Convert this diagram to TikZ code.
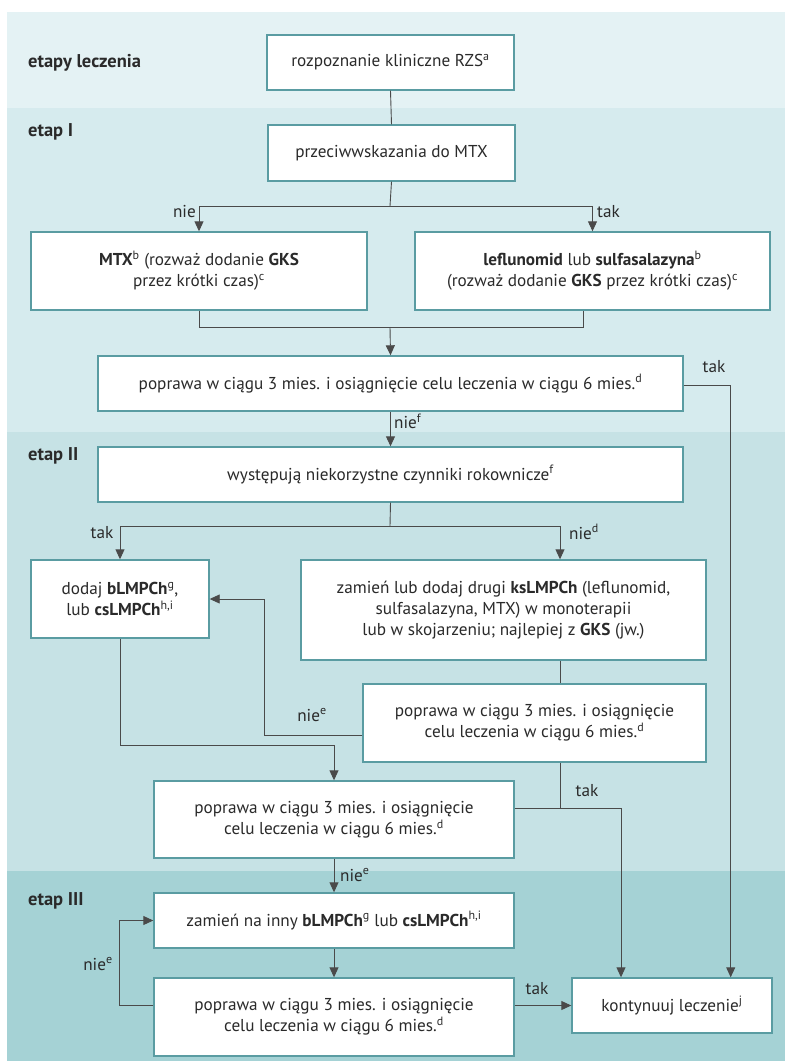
\documentclass[tikz,border=0pt]{standalone}
\usepackage{fontspec}
\setmainfont{PT Sans}
\usetikzlibrary{arrows.meta,calc}
\definecolor{bandA}{HTML}{E4F2F4}
\definecolor{bandB}{HTML}{D6EBEE}
\definecolor{bandC}{HTML}{C6E2E5}
\definecolor{bandD}{HTML}{A5D2D5}
\definecolor{boxc}{HTML}{5A9CA2}
\definecolor{linec}{HTML}{4A4A4A}
\definecolor{txt}{HTML}{2A2A2A}
\tikzset{
  box/.style={draw=boxc, line width=1.4pt, fill=white, align=center, inner sep=0pt,
    font=\fontsize{17.2}{21}\selectfont, text=txt},
  conn/.style={draw=linec, line width=0.9pt},
  arr/.style={conn, -{Triangle[length=10pt,width=9pt]}},
  lab/.style={font=\fontsize{17.2}{20}\selectfont, text=txt, inner sep=1pt},
  stage/.style={font=\bfseries\fontsize{18.5}{22}\selectfont, text=txt, anchor=west, inner sep=0pt}
}
\begin{document}
\begin{tikzpicture}[x=1pt,y=-1pt]
\useasboundingbox (0,0) rectangle (785,1061);
% bands
\fill[bandA] (7,12) rectangle (785,108);
\fill[bandB] (7,108) rectangle (785,432);
\fill[bandC] (7,432) rectangle (785,871);
\fill[bandD] (7,871) rectangle (785,1061);
% stage labels
\node[stage] (s0) at (28,63) {etapy leczenia};
\node[stage] (s1) at (28,132) {etap I};
\node[stage] (s2) at (28,456) {etap II};
\node[stage] (s3) at (28,901) {etap III};
% boxes
\node[box, minimum width=247pt, minimum height=55pt] (b1) at (390.5,62.5) {rozpoznanie kliniczne RZS\textsuperscript{a}};
\node[box, minimum width=247pt, minimum height=56pt] (prz) at (391.5,153) {przeciwwskazania do MTX};
\node[box, minimum width=336pt, minimum height=78pt] (mtx) at (199,271) {\textbf{MTX}\textsuperscript{b} (rozważ dodanie \textbf{GKS}\\przez krótki czas)\textsuperscript{c}};
\node[box, minimum width=355pt, minimum height=78pt] (lef) at (592.5,271) {\textbf{leflunomid} lub \textbf{sulfasalazyna}\textsuperscript{b}\\(rozważ dodanie \textbf{GKS} przez krótki czas)\textsuperscript{c}};
\node[box, minimum width=585pt, minimum height=55pt] (pop1) at (390.5,383.5) {poprawa w ciągu 3 mies. i osiągnięcie celu leczenia w ciągu 6 mies.\textsuperscript{d}};
\node[box, minimum width=585pt, minimum height=55pt] (wys) at (390.5,474.5) {występują niekorzystne czynniki rokownicze\textsuperscript{f}};
\node[box, minimum width=178pt, minimum height=78pt] (dod) at (120,599) {dodaj \textbf{bLMPCh}\textsuperscript{g},\\lub \textbf{csLMPCh}\textsuperscript{h,i}};
\node[box, minimum width=405pt, minimum height=100pt] (zam) at (503.5,610) {zamień lub dodaj drugi \textbf{ksLMPCh} (leflunomid,\\sulfasalazyna, MTX) w monoterapii\\lub w skojarzeniu; najlepiej z \textbf{GKS} (jw.)};
\node[box, minimum width=343pt, minimum height=78pt] (pop2) at (534.5,723) {poprawa w ciągu 3 mies. i osiągnięcie\\celu leczenia w ciągu 6 mies.\textsuperscript{d}};
\node[box, minimum width=360pt, minimum height=77pt] (pop3) at (334,819.5) {poprawa w ciągu 3 mies. i osiągnięcie\\celu leczenia w ciągu 6 mies.\textsuperscript{d}};
\node[box, minimum width=360pt, minimum height=55pt] (zam2) at (334,920.5) {zamień na inny \textbf{bLMPCh}\textsuperscript{g} lub \textbf{csLMPCh}\textsuperscript{h,i}};
\node[box, minimum width=360pt, minimum height=78pt] (pop4) at (334,1017) {poprawa w ciągu 3 mies. i osiągnięcie\\celu leczenia w ciągu 6 mies.\textsuperscript{d}};
\node[box, minimum width=200pt, minimum height=55pt] (kon) at (672,1005.5) {kontynuuj leczenie\textsuperscript{j}};
% connectors
\draw[conn] (b1.south) -- (prz.north);
\coordinate (sp1) at (390,206);
\draw[conn] (prz.south) -- (sp1);
\draw[arr] (sp1) -| (mtx.north);
\draw[arr] (sp1) -| (lef.north);
\node[lab, anchor=east] (lnie1) at (197,212) {nie};
\node[lab, anchor=west] (ltak1) at (596,212) {tak};
\coordinate (j1) at (390,327);
\draw[conn] (mtx.south) |- ($(lef.south)+(-9.5,17)$) -- ($(lef.south)+(-9.5,0)$);
\draw[arr] (j1) -- (pop1.north);
\draw[arr] ($(pop1.east)+(0,1.5)$) -| ($(kon.north east)+(-42,0)$);
\node[lab] (ltak2) at (714,367) {tak};
\draw[arr] (pop1.south) -- (wys.north);
\node[lab, anchor=west] (lnief) at (393,421) {nie\textsuperscript{f}};
\coordinate (sp2) at (390,526);
\draw[conn] (wys.south) -- (sp2);
\draw[arr] (sp2) -| (dod.north);
\draw[arr] (sp2) -| ($(zam.north)+(56.5,0)$);
\node[lab] (ltak3) at (102,533) {tak};
\node[lab] (lnied) at (584,532) {nie\textsuperscript{d}};
\draw[conn] ($(zam.south)+(56.5,0)$) -- ($(pop2.north)+(25.5,0)$);
\draw[arr] ($(pop2.west)+(0,12)$) -- ++(-98,0) |- (dod.east);
\node[lab] (lnie2) at (312,715) {nie\textsuperscript{e}};
\draw[arr] (dod.south) |- ($(pop3.north)+(0,-35)$) -- (pop3.north);
\draw[conn] ($(pop2.south)+(25.5,0)$) -- ++(0,46);
\draw[arr] ($(pop3.east)+(0,-11.5)$) -| ($(kon.north)+(-51,0)$);
\node[lab] (ltak4) at (587,791) {tak};
\draw[arr] (pop3.south) -- (zam2.north);
\node[lab, anchor=west] (lnie3) at (339,875) {nie\textsuperscript{e}};
\draw[arr] (zam2.south) -- (pop4.north);
\draw[arr] ($(pop4.west)+(0,-12)$) -- ++(-34,0) |- (zam2.west);
\node[lab] (lnie4) at (98,964) {nie\textsuperscript{e}};
\draw[arr] ($(pop4.east)+(0,-11.5)$) -- (kon.west);
\node[lab] (ltak5) at (537,989) {tak};
\end{tikzpicture}
\end{document}
